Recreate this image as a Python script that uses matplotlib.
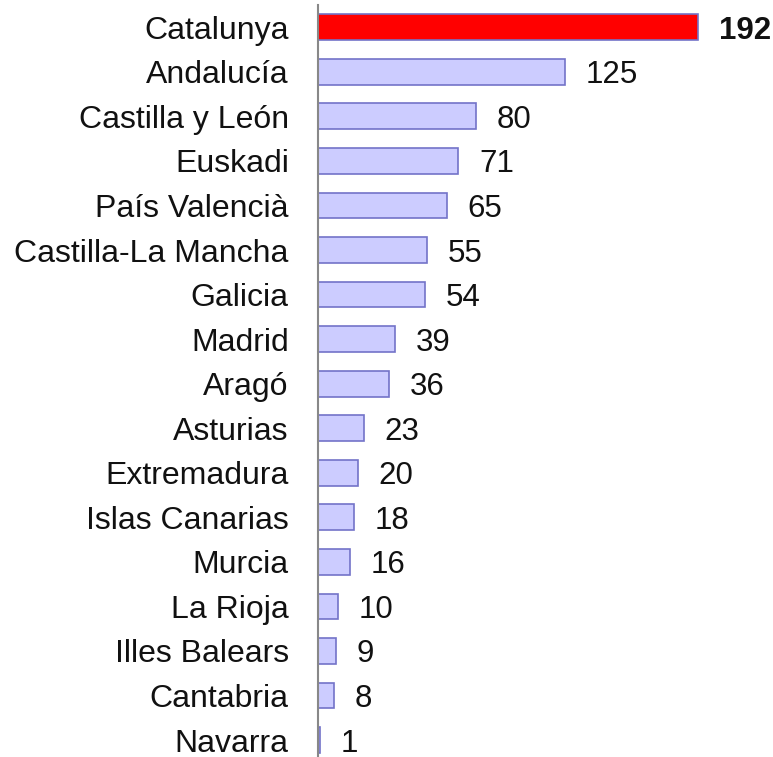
import matplotlib.pyplot as plt

plt.rcParams['font.family'] = ['Liberation Sans', 'DejaVu Sans']

regions = ["Catalunya", "Andalucía", "Castilla y León", "Euskadi", "País Valencià",
           "Castilla-La Mancha", "Galicia", "Madrid", "Aragó", "Asturias",
           "Extremadura", "Islas Canarias", "Murcia", "La Rioja", "Illes Balears",
           "Cantabria", "Navarra"]
values = [192, 125, 80, 71, 65, 55, 54, 39, 36, 23, 20, 18, 16, 10, 9, 8, 1]

fig = plt.figure(figsize=(7.73, 7.57), dpi=100)
ax = fig.add_axes([318 / 773, 0, 455 / 773, 752 / 757])

pos = list(range(len(values)))
colors = ['#ff0000'] + ['#ccccff'] * (len(values) - 1)
ax.barh(pos, values, height=0.58, color=colors, edgecolor='#7373c8', linewidth=1.2)

for i, v in enumerate(values):
    ax.text(v + 10.5, i, str(v), va='center_baseline', ha='left', fontsize=22.5,
            fontweight='bold' if i == 0 else 'normal', color='#111111')

ax.set_xlim(0, 230)
ax.set_ylim(16.38, -0.5)
ax.set_yticks(pos)
ax.set_yticklabels(regions, fontsize=23, color='#111111')
ax.tick_params(axis='y', length=0, pad=21)
ax.set_xticks([])
for s in ['top', 'right', 'bottom']:
    ax.spines[s].set_visible(False)
ax.spines['left'].set_color('#888888')
ax.spines['left'].set_linewidth(1.5)

fig.savefig('out.png', dpi=100)
